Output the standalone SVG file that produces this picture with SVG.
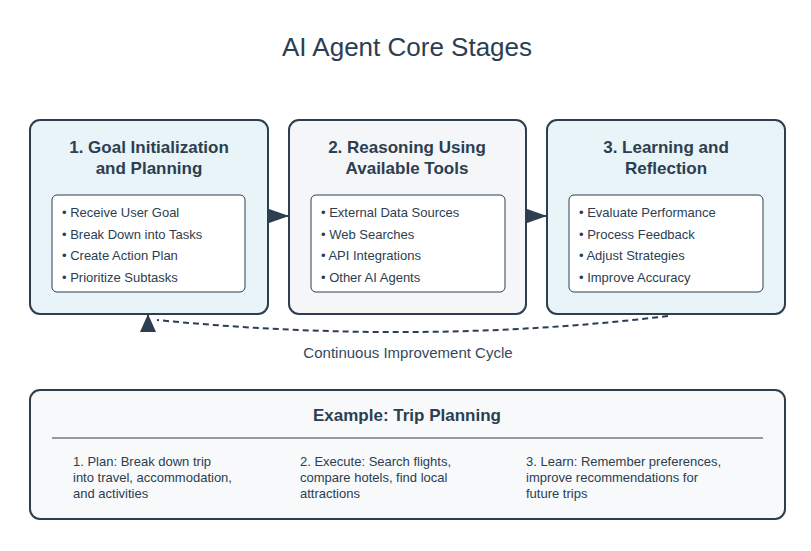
<svg xmlns="http://www.w3.org/2000/svg" width="811" height="551" viewBox="0 0 811 551">
<defs>
<style>
text{font-family:"Liberation Sans",Arial,sans-serif;fill:#2c3e50}
.title{font-size:26px;text-anchor:middle}
.h{font-size:17px;font-weight:bold;text-anchor:middle}
.b{font-size:13px}
.stage{stroke:#2c3e50;stroke-width:2}
.inner{fill:#fff;stroke:#2c3e50;stroke-width:1}
.conn{stroke:#2c3e50;stroke-width:2;fill:none}
.cap{font-size:15px;text-anchor:middle;fill:#34495e}
</style>
<marker id="ah" viewBox="0 0 10 10" refX="10" refY="5" markerWidth="10" markerHeight="7" markerUnits="strokeWidth" orient="auto" preserveAspectRatio="none"><path d="M0,0 L10,5 L0,10 Z" fill="#2c3e50"/></marker>
<marker id="ahUp" viewBox="0 0 10 10" refX="10" refY="5" markerWidth="9" markerHeight="8" markerUnits="strokeWidth" orient="-90" preserveAspectRatio="none"><path d="M0,0 L10,5 L0,10 Z" fill="#2c3e50"/></marker>
</defs>
<rect width="811" height="551" fill="#fff"/>
<text class="title" x="407" y="56">AI Agent Core Stages</text>

<g id="stage1">
<rect class="stage" x="30" y="120" width="238" height="194" rx="10" fill="#e8f4f8"/>
<text class="h" x="149" y="153">1. Goal Initialization</text>
<text class="h" x="149" y="174">and Planning</text>
<rect class="inner" x="52" y="195" width="193" height="97" rx="5"/>
<text class="b" x="62" y="217">• Receive User Goal</text>
<text class="b" x="62" y="239">• Break Down into Tasks</text>
<text class="b" x="62" y="260">• Create Action Plan</text>
<text class="b" x="62" y="282">• Prioritize Subtasks</text>
</g>

<g id="stage2">
<rect class="stage" x="289" y="120" width="237" height="194" rx="10" fill="#f4f6f7"/>
<text class="h" x="407" y="153">2. Reasoning Using</text>
<text class="h" x="407" y="174">Available Tools</text>
<rect class="inner" x="311" y="195" width="194" height="97" rx="5"/>
<text class="b" x="321" y="217">• External Data Sources</text>
<text class="b" x="321" y="239">• Web Searches</text>
<text class="b" x="321" y="260">• API Integrations</text>
<text class="b" x="321" y="282">• Other AI Agents</text>
</g>

<g id="stage3">
<rect class="stage" x="547" y="120" width="238" height="194" rx="10" fill="#e8f4f8"/>
<text class="h" x="666" y="153">3. Learning and</text>
<text class="h" x="666" y="174">Reflection</text>
<rect class="inner" x="569" y="195" width="194" height="97" rx="5"/>
<text class="b" x="579" y="217">• Evaluate Performance</text>
<text class="b" x="579" y="239">• Process Feedback</text>
<text class="b" x="579" y="260">• Adjust Strategies</text>
<text class="b" x="579" y="282">• Improve Accuracy</text>
</g>

<g id="connectors">
<line class="conn" x1="268" y1="216" x2="289" y2="216" marker-end="url(#ah)"/>
<line class="conn" x1="526" y1="216" x2="547" y2="216" marker-end="url(#ah)"/>
<path class="conn" d="M668,316 Q420,346 157,320" stroke-dasharray="6,4"/>
<line class="conn" x1="148" y1="332" x2="148" y2="314" marker-end="url(#ahUp)"/>
<text class="cap" x="408" y="358">Continuous Improvement Cycle</text>
</g>

<g id="example">
<rect class="stage" x="30" y="390" width="755" height="129" rx="10" fill="#f7f9fa"/>
<text class="h" x="407" y="421">Example: Trip Planning</text>
<line x1="52" y1="438" x2="763" y2="438" stroke="#2c3e50" stroke-width="1"/>
<text class="b" x="73" y="466">1. Plan: Break down trip</text>
<text class="b" x="73" y="482">into travel, accommodation,</text>
<text class="b" x="73" y="498">and activities</text>
<text class="b" x="300" y="466">2. Execute: Search flights,</text>
<text class="b" x="300" y="482">compare hotels, find local</text>
<text class="b" x="300" y="498">attractions</text>
<text class="b" x="526" y="466">3. Learn: Remember preferences,</text>
<text class="b" x="526" y="482">improve recommendations for</text>
<text class="b" x="526" y="498">future trips</text>
</g>
</svg>
